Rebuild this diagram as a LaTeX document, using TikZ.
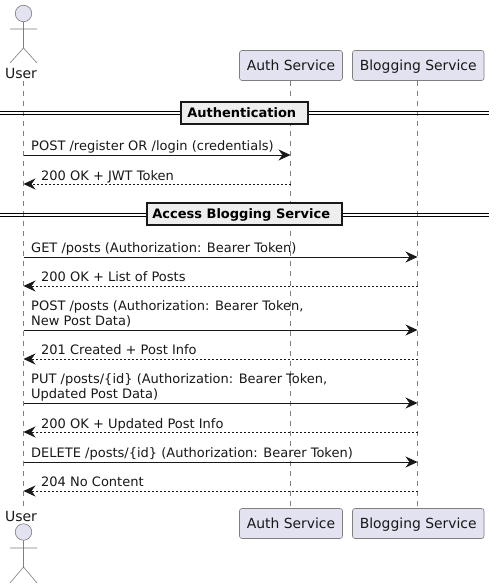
\documentclass[tikz,border=0pt]{standalone}
\usepackage{fontspec}
\setmainfont{DejaVu Sans}
\usetikzlibrary{positioning, arrows.meta, calc}
\definecolor{seqFill}{HTML}{E2E2F0}
\definecolor{seqBorder}{HTML}{7F7F7F}
\definecolor{seqText}{HTML}{181818}
\definecolor{seqDivider}{HTML}{EEEEEE}
\tikzset{
  actorlimb/.style={draw=seqBorder, line width=0.6pt},
  actorhead/.style={circle, draw=seqBorder, fill=seqFill, line width=0.6pt, minimum size=16.5pt, inner sep=0pt},
  actorname/.style={text=seqText, font=\fontsize{14}{16}\selectfont, inner sep=0pt},
  servicebox/.style={draw=seqBorder, fill=seqFill, rounded corners=2.5pt, line width=0.6pt, inner sep=0pt,
    minimum height=30pt, text height=13pt, text depth=3pt, text=seqText, font=\fontsize{13.9}{16}\selectfont},
  lifeline/.style={draw=seqBorder, line width=0.6pt, dash pattern=on 5pt off 5pt},
  callmsg/.style={draw=seqText, line width=0.8pt, -{Stealth[length=12pt, width=11pt, inset=4pt]}},
  replymsg/.style={draw=seqText, line width=0.8pt, dash pattern=on 2pt off 2pt, -{Stealth[length=12pt, width=11pt, inset=4pt]}},
  msglabel/.style={text=seqText, anchor=base west, inner sep=0pt, align=left, font=\fontsize{13}{15}\selectfont},
  dividerbox/.style={draw=black!90, fill=seqDivider, line width=2pt, inner sep=0pt, minimum height=22pt,
    text height=9.2pt, text depth=0pt, text=black, font=\bfseries\fontsize{13}{15}\selectfont},
  dividerline/.style={draw=black, line width=1pt},
}
\begin{document}
\begin{tikzpicture}[x=1pt, y=-1pt]
  \useasboundingbox (0,0) rectangle (495,588);
  \fill[white] (0,0) rectangle (495,588);
  % Cajas de servicios
  \node[servicebox, minimum width=103pt] (authTop) at (291,65.5) {Auth Service};
  \node[servicebox, minimum width=131.5pt] (blogTop) at (418.25,65.5) {Blogging Service};
  \node[servicebox, minimum width=103pt] (authBot) at (291,523.5) {Auth Service};
  \node[servicebox, minimum width=131.5pt] (blogBot) at (418.25,523.5) {Blogging Service};
  \node[actorname] (userTop) at (21,73) {User};
  \node[actorname] (userBot) at (21,516) {User};
  % Lineas de vida
  \coordinate (userLineTop) at (23.5,81);
  \coordinate (userLineBot) at (23.5,507);
  \coordinate (authLineTop) at (290.5,81);
  \coordinate (authLineBot) at (290.5,508);
  \coordinate (blogLineTop) at (417.5,81);
  \coordinate (blogLineBot) at (417.5,508);
  \draw[lifeline] (userLineTop) -- (userLineBot);
  \draw[lifeline] (authLineTop) -- (authLineBot);
  \draw[lifeline] (blogLineTop) -- (blogLineBot);
  % Actor arriba
  \node[actorhead] (headTop) at (23.5,13.5) {};
  \draw[actorlimb] (headTop) -- (23.5,48) (10,29) -- (37,29) (10,63) -- (23.5,48) -- (37,63);
  % Actor abajo
  \node[actorhead] (headBot) at (23.5,532) {};
  \draw[actorlimb] (headBot) -- (23.5,567) (10,548) -- (37,548) (10,583) -- (23.5,567) -- (37,583);
  % Separadores
  \coordinate (divOneL) at (0,111.5);
  \coordinate (divOneR) at (489,111.5);
  \coordinate (divTwoL) at (0,213);
  \coordinate (divTwoR) at (489,213);
  \draw[dividerline] (divOneL) -- (divOneR);
  \draw[dividerline] ($(divOneL)+(0,3.5)$) -- ($(divOneR)+(0,3.5)$);
  \draw[dividerline] (divTwoL) -- (divTwoR);
  \draw[dividerline] ($(divTwoL)+(0,3.5)$) -- ($(divTwoR)+(0,3.5)$);
  \node[dividerbox, minimum width=126.5pt] (divOne) at (244.25,113) {Authentication\kern5pt};
  \node[dividerbox, minimum width=195pt] (divTwo) at (244.2,214) {Access Blogging Service\kern6pt};
  % Mensajes
  \foreach \name/\ypos/\target in {a/155/290.5, b/184/290.5, c/257/417.5, d/286/417.5, e/330/417.5,
      f/359/417.5, g/403/417.5, h/432/417.5, i/462/417.5, j/491/417.5} {
    \coordinate (from\name) at (23.5,\ypos);
    \coordinate (to\name) at (\target,\ypos);
  }
  \draw[callmsg] (froma) -- (toa);
  \draw[replymsg] (tob) -- (fromb);
  \draw[callmsg] (fromc) -- (toc);
  \draw[replymsg] (tod) -- (fromd);
  \draw[callmsg] (frome) -- (toe);
  \draw[replymsg] (tof) -- (fromf);
  \draw[callmsg] (fromg) -- (tog);
  \draw[replymsg] (toh) -- (fromh);
  \draw[callmsg] (fromi) -- (toi);
  \draw[replymsg] (toj) -- (fromj);
  % Textos de los mensajes
  \node[msglabel] (msgA) at (31,150) {POST /register OR /login (credentials)};
  \node[msglabel] (msgB) at (41,180) {200 OK + JWT Token};
  \node[msglabel] (msgC) at (31,252) {GET /posts (Authorization: Bearer Token)};
  \node[msglabel] (msgD) at (41,281) {200 OK + List of Posts};
  \node[msglabel] (msgE) at (31,325.5) {POST /posts (Authorization: Bearer Token,\\New Post Data)};
  \node[msglabel] (msgF) at (41,354) {201 Created + Post Info};
  \node[msglabel] (msgG) at (31,398.5) {PUT /posts/\{id\} (Authorization: Bearer Token,\\Updated Post Data)};
  \node[msglabel] (msgH) at (41,428) {200 OK + Updated Post Info};
  \node[msglabel] (msgI) at (31,457) {DELETE /posts/\{id\} (Authorization: Bearer Token)};
  \node[msglabel] (msgJ) at (41,486) {204 No Content};
\end{tikzpicture}
\end{document}
